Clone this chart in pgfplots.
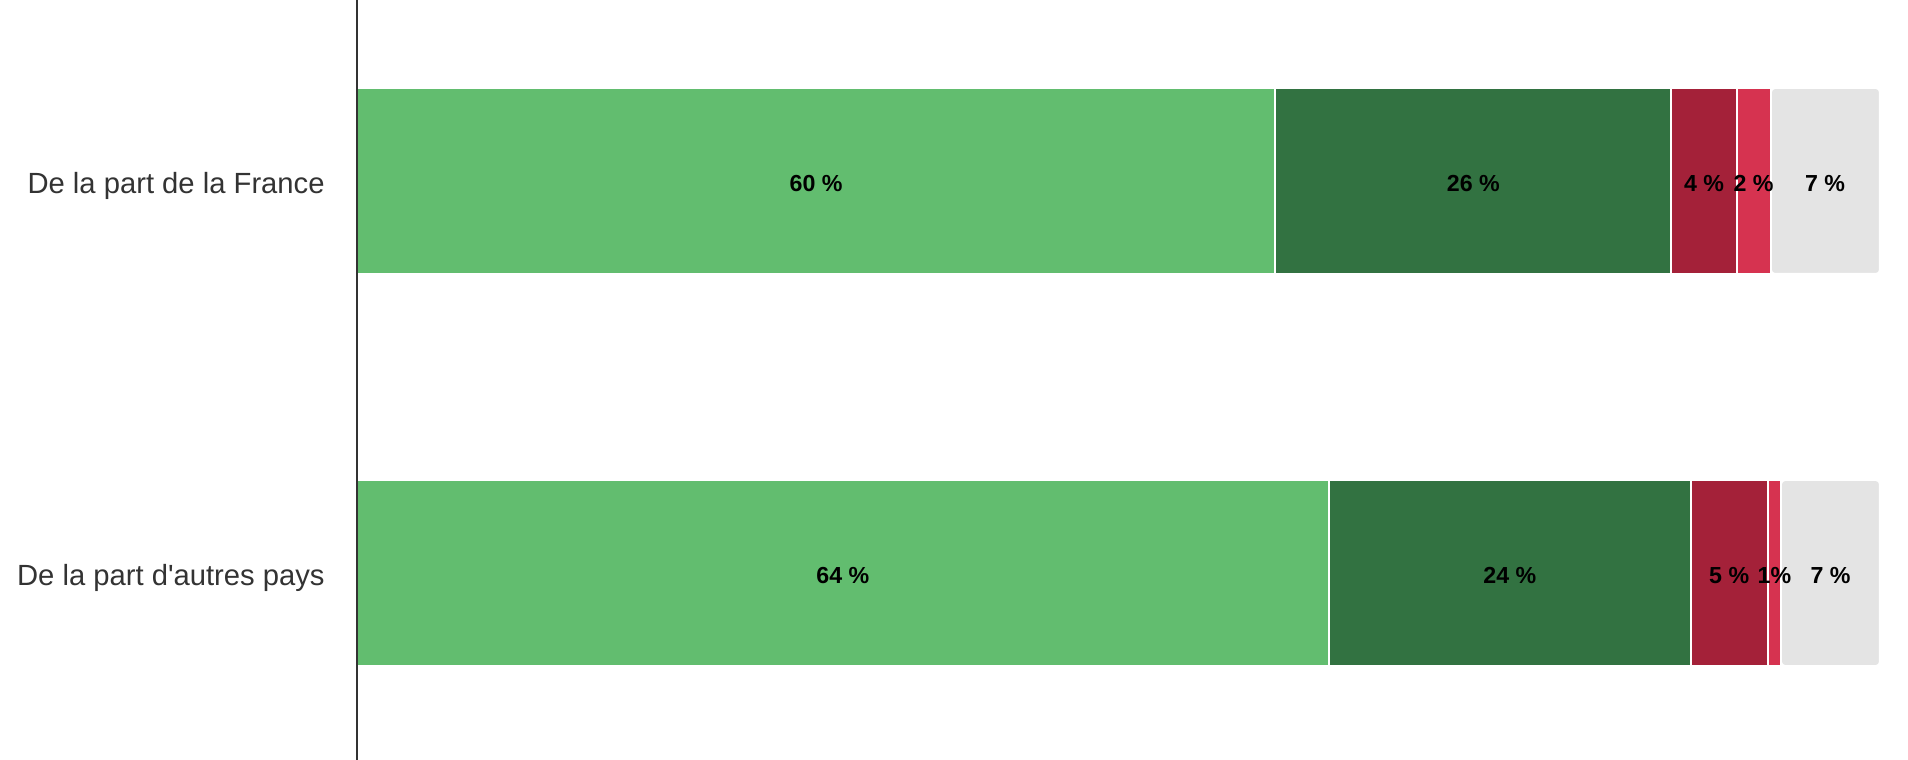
\documentclass[border=0pt]{standalone}
\usepackage{pgfplots}
\pgfplotsset{compat=1.18}
\usepackage{fontspec}
\setmainfont{Liberation Sans}
\definecolor{vertclair}{RGB}{98,189,111}
\definecolor{vertfonce}{RGB}{50,114,65}
\definecolor{rougefonce}{RGB}{164,33,57}
\definecolor{rouge}{RGB}{214,51,80}
\definecolor{gris}{RGB}{228,228,228}
\definecolor{texte}{RGB}{51,51,51}
\begin{document}
\begin{tikzpicture}
% 1 px of the reference = 0.5pt
\path[use as bounding box] (-178.5pt,0) rectangle (775.5pt,380pt);
\begin{axis}[
  at={(0,0)}, anchor=south west,
  scale only axis, width=775.5pt, height=380pt,
  xbar stacked, bar width=0.4745,
  xmin=0, xmax=101.84, ymin=-0.477, ymax=1.4617,
  axis x line=none, axis y line*=left,
  axis line style={draw=texte, line width=1pt},
  ytick={0,1},
  yticklabels={De la part d\textquotesingle autres pays, De la part de la France},
  major tick length=0pt,
  yticklabel style={anchor=base east, inner sep=0pt, xshift=-16pt, yshift=-6.2pt,
    font=\fontsize{14.6}{16}\selectfont, text=texte},
  axis on top,
  every axis plot/.append style={draw=white, line width=1pt},
]
\addplot[fill=vertclair] coordinates {(60.28,1) (63.80,0)};
\addplot[fill=vertfonce] coordinates {(26.00,1) (23.79,0)};
\addplot[fill=rougefonce] coordinates {(4.33,1) (5.06,0)};
\addplot[fill=rouge] coordinates {(2.23,1) (0.85,0)};
\addplot[fill=gris, rounded corners=2pt] coordinates {(7.16,1) (6.50,0)};
\end{axis}
% labels, centred in each segment
\begin{axis}[
  at={(0,0)}, anchor=south west,
  scale only axis, width=775.5pt, height=380pt,
  xmin=0, xmax=101.84, ymin=-0.477, ymax=1.4617,
  hide axis,
]
\addplot[only marks, mark=none, nodes near coords, point meta=explicit symbolic,
  nodes near coords style={anchor=center, inner sep=0pt, text=black, yshift=-1.2pt,
    font=\bfseries\fontsize{11.6}{13}\selectfont}]
  coordinates {
  (30.15,1) [60 \%] (73.30,1) [26 \%] (88.45,1) [4 \%] (91.70,1) [2 \%] (96.40,1) [7 \%]
  (31.90,0) [64 \%] (75.70,0) [24 \%] (90.10,0) [5 \%] (93.07,0) [1\%] (96.75,0) [7 \%]
  };
\end{axis}
\end{tikzpicture}
\end{document}
